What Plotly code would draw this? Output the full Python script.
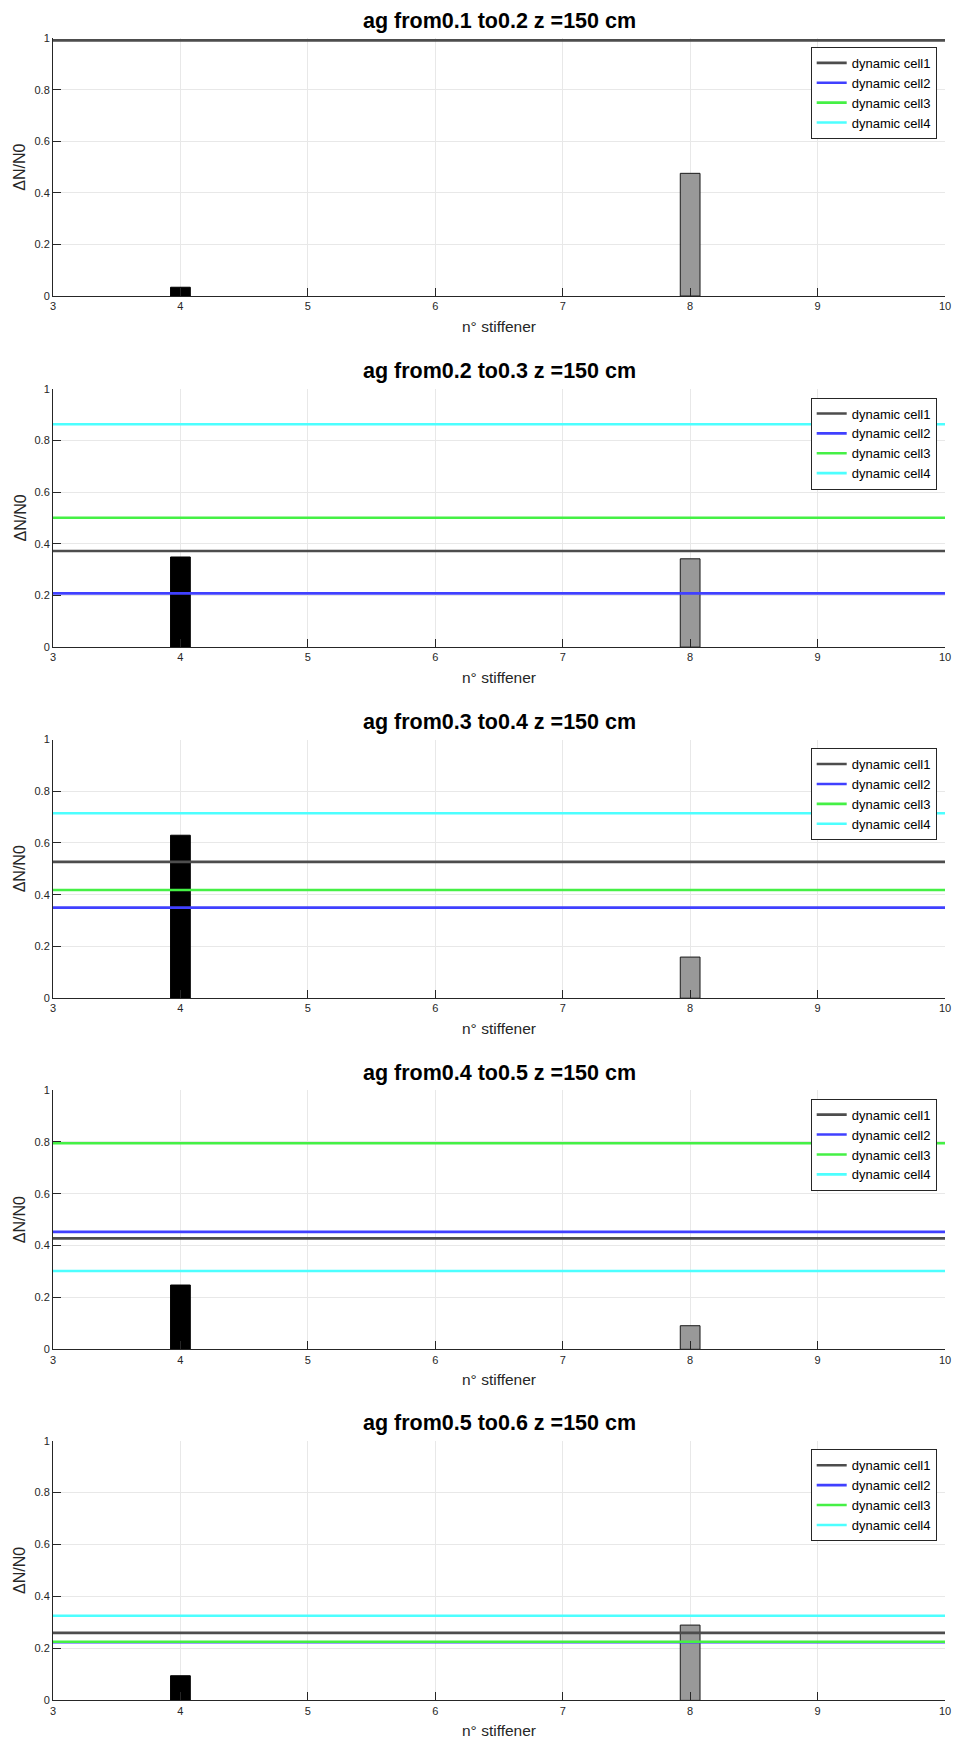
import plotly.graph_objects as go

# ---------------- data ----------------
ag_from = ["0.1", "0.2", "0.3", "0.4", "0.5"]
ag_to = ["0.2", "0.3", "0.4", "0.5", "0.6"]
z_cm = 150

stiffener_a = 4
stiffener_b = 8
bar_a = [0.034, 0.349, 0.630, 0.248, 0.095]
bar_b = [0.476, 0.342, 0.159, 0.091, 0.290]

cell_names = ["dynamic cell1", "dynamic cell2", "dynamic cell3", "dynamic cell4"]
cell1 = [0.992, 0.372, 0.527, 0.428, 0.260]
cell2 = [None, 0.208, 0.350, 0.453, 0.224]
cell3 = [None, 0.501, 0.418, 0.795, 0.226]
cell4 = [None, 0.863, 0.715, 0.302, 0.326]

x_range = [3, 10]
x_ticks = [3, 4, 5, 6, 7, 8, 9, 10]
y_ticks = [0, 0.2, 0.4, 0.6, 0.8, 1]
y_ticktext = ["0", "0.2", "0.4", "0.6", "0.8", "1"]

# ---------------- styles ----------------
W, H = 957, 1742
cell_colors = ["#4d4d4d", "#4040ff", "#45f045", "#4dffff"]
FONT = "Liberation Sans, Arial, Helvetica, sans-serif"
AX = "#262626"

left_px, right_px = 53, 945
tops = [38.3 + 350.6 * i for i in range(5)]
bottoms = [296.0 + 351.1 * i for i in range(5)]


def fx(p):
    return p / W


def fy(p):
    return 1 - p / H


fig = go.Figure()
annotations = []
cells = [cell1, cell2, cell3, cell4]

for i in range(5):
    n = "" if i == 0 else str(i + 1)
    xa, ya = "x" + n, "y" + n
    leg = "legend" + n

    fig.add_trace(go.Bar(x=[stiffener_a], y=[bar_a[i]], width=0.155,
                         marker=dict(color="#000000", line=dict(color="#000000", width=1)),
                         xaxis=xa, yaxis=ya, showlegend=False, hoverinfo="skip"))
    fig.add_trace(go.Bar(x=[stiffener_b], y=[bar_b[i]], width=0.155,
                         marker=dict(color="#999999", line=dict(color="#1a1a1a", width=1)),
                         xaxis=xa, yaxis=ya, showlegend=False, hoverinfo="skip"))
    for k in range(4):
        v = cells[k][i]
        fig.add_trace(go.Scatter(x=x_range, y=[v, v], mode="lines",
                                 line=dict(color=cell_colors[k], width=2.6),
                                 name=cell_names[k], xaxis=xa, yaxis=ya,
                                 legend=leg, showlegend=True))

    dom_y = [fy(bottoms[i]), fy(tops[i])]
    common = dict(showline=True, linecolor=AX, linewidth=1, ticks="inside",
                  ticklen=8, tickcolor=AX, tickwidth=1, showgrid=True,
                  gridcolor="#e8e8e8", gridwidth=1, zeroline=False, automargin=False,
                  tickfont=dict(family=FONT, size=11, color=AX), mirror=False)
    fig.layout["xaxis" + n] = dict(domain=[fx(left_px), fx(right_px)], anchor=ya,
                                    range=x_range, tickvals=x_ticks, **common)
    fig.layout["yaxis" + n] = dict(domain=dom_y, anchor=xa, range=[0, 1],
                                    tickvals=y_ticks, ticktext=y_ticktext, **common)
    fig.layout[leg] = dict(x=fx(936.7), xanchor="right", y=fy(tops[i] + 8.6),
                           yanchor="top", bgcolor="white", bordercolor=AX,
                           borderwidth=1, font=dict(family=FONT, size=13, color="#000000"),
                           tracegroupgap=0, itemwidth=30)

    title = f"ag from{ag_from[i]} to{ag_to[i]} z ={z_cm} cm"
    annotations.append(dict(text=f"<b>{title}</b>", x=fx((left_px + right_px) / 2),
                            y=fy(tops[i] - 17.5), xref="paper", yref="paper",
                            xanchor="center", yanchor="middle", showarrow=False,
                            font=dict(family=FONT, size=21.5, color="#000000")))
    annotations.append(dict(text="n° stiffener", x=fx((left_px + right_px) / 2),
                            y=fy(bottoms[i] + 30), xref="paper", yref="paper",
                            xanchor="center", yanchor="middle", showarrow=False,
                            font=dict(family=FONT, size=15.5, color=AX)))
    annotations.append(dict(text="ΔN/N0", x=fx(19.5),
                            y=fy((tops[i] + bottoms[i]) / 2), xref="paper", yref="paper",
                            xanchor="center", yanchor="middle", showarrow=False,
                            textangle=-90,
                            font=dict(family=FONT, size=16, color=AX)))

fig.update_layout(width=W, height=H, margin=dict(l=0, r=0, t=0, b=0, autoexpand=False),
                  plot_bgcolor="white", paper_bgcolor="white",
                  annotations=annotations, barmode="overlay")

fig.write_html("out.html",
               config={"displayModeBar": False},
               post_script="document.body.style.margin='0';"
                           "document.body.style.overflow='hidden';")
